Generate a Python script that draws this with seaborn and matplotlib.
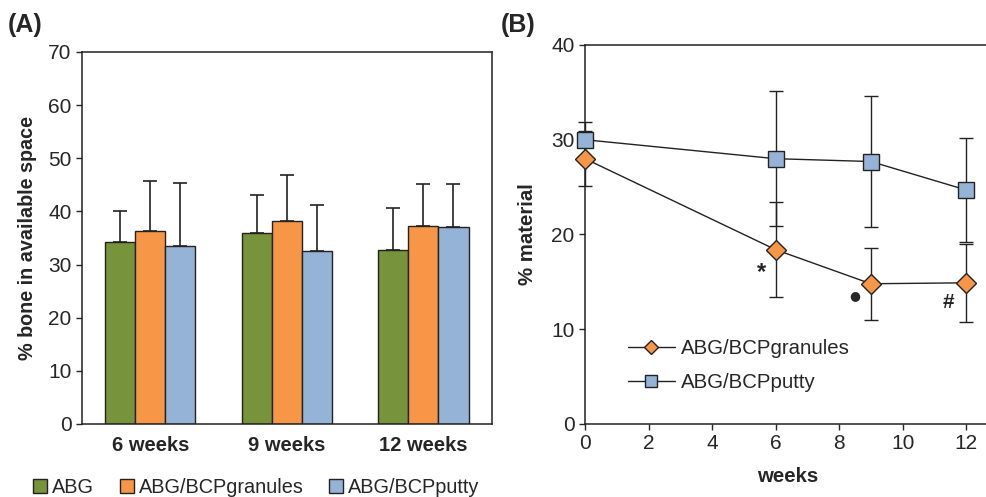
import matplotlib
matplotlib.use('Agg')
import matplotlib.pyplot as plt
import seaborn as sns
import pandas as pd
from matplotlib.patches import Patch
from matplotlib.lines import Line2D

# panel A data
timepoints = ['6 weeks', '9 weeks', '12 weeks']
groups = ['ABG', 'ABG/BCPgranules', 'ABG/BCPputty']
abg = [34.3, 35.9, 32.8]
abg_sd = [5.7, 7.1, 7.9]
granules = [36.3, 38.2, 37.3]
granules_sd = [9.5, 8.6, 7.8]
putty = [33.4, 32.5, 37.1]
putty_sd = [12.0, 8.7, 8.0]

# panel B data
weeks = [0, 6, 9, 12]
mat_granules = [28.0, 18.4, 14.8, 14.9]
mat_granules_sd = [2.9, 5.0, 3.8, 4.1]
mat_putty = [30.0, 28.0, 27.7, 24.7]
mat_putty_sd = [1.9, 7.1, 6.9, 5.5]
marks = ['*', '\u25CF', '#']
mark_x = [5.55, 8.5, 11.45]
mark_y = [16.0, 13.6, 12.8]

colors = ['#77933C', '#F79646', '#95B3D7']
ink = '#222222'

sns.set_style('ticks')
plt.rcParams['font.family'] = ['Liberation Sans', 'DejaVu Sans']

fig = plt.figure(figsize=(9.86, 4.97), dpi=100)
axA = fig.add_axes([0.0832, 0.1469, 0.4155, 0.7485])
axB = fig.add_axes([0.5933, 0.1469, 0.4107, 0.7626])

dfA = pd.DataFrame({
    'time': timepoints * 3,
    'group': [g for g in groups for _ in timepoints],
    'value': abg + granules + putty,
})
sns.barplot(data=dfA, x='time', y='value', hue='group', order=timepoints,
            hue_order=groups, palette=colors, width=0.66, errorbar=None,
            edgecolor=ink, linewidth=1, saturation=1, ax=axA, legend=False)

bars = [p for p in axA.patches if p.get_height() > 0]
sds = abg_sd + granules_sd + putty_sd
for p, s in zip(bars, sds):
    xc = p.get_x() + p.get_width() / 2
    axA.errorbar(xc, p.get_height(), yerr=[[0], [s]], color=ink,
                 lw=1.2, capsize=5, capthick=1.2)

axA.set_ylim(0, 70)
axA.set_xlim(-0.5, 2.5)
axA.set_yticks(range(0, 71, 10))
axA.tick_params(axis='y', labelsize=15, direction='out', length=4, width=1)
axA.tick_params(axis='x', length=0, labelsize=14.5, pad=9)
for lab in axA.get_xticklabels():
    lab.set_fontweight('bold')
axA.set_xlabel('')
axA.set_ylabel('% bone in available space', fontsize=14.2, fontweight='bold', labelpad=8)
for s in axA.spines.values():
    s.set_visible(True)
    s.set_linewidth(1.1)
    s.set_color(ink)

handles = [Patch(facecolor=c, edgecolor=ink, linewidth=1) for c in colors]
fig.legend(handles, groups, loc='center', bbox_to_anchor=(0.26, 0.02), ncol=3,
           frameon=False, fontsize=14.3, handlelength=0.7, handleheight=0.7,
           handletextpad=0.25, columnspacing=1.3)

# panel B
axB.errorbar(weeks, mat_putty, yerr=mat_putty_sd, color=ink, lw=1,
             capsize=5, capthick=1, fmt='none', zorder=2)
axB.errorbar(weeks, mat_granules, yerr=mat_granules_sd, color=ink, lw=1,
             capsize=5, capthick=1, fmt='none', zorder=2)
sns.lineplot(x=weeks, y=mat_putty, color=ink, lw=1, marker='s',
             markersize=11, markerfacecolor=colors[2], markeredgecolor=ink,
             markeredgewidth=1, ax=axB, zorder=3)
sns.lineplot(x=weeks, y=mat_granules, color=ink, lw=1, marker='D',
             markersize=10, markerfacecolor=colors[1], markeredgecolor=ink,
             markeredgewidth=1, ax=axB, zorder=3)
for art in axB.lines + axB.collections:
    art.set_clip_on(False)
for m, x, y in zip(marks, mark_x, mark_y):
    if m == '\u25CF':
        axB.text(x, y, m, fontsize=9, ha='center', va='center', family=['DejaVu Sans'])
    else:
        axB.text(x, y, m, fontsize=17 if m == '*' else 15, ha='center',
                 va='center', fontweight='bold')

axB.set_xlim(0, 12.75)
axB.set_ylim(0, 40)
axB.set_xticks(range(0, 13, 2))
axB.set_yticks(range(0, 41, 10))
axB.tick_params(labelsize=15, direction='out', length=4, width=1)
axB.set_xlabel('weeks', fontsize=14.7, fontweight='bold', labelpad=10)
axB.set_ylabel('% material', fontsize=14.7, fontweight='bold', labelpad=10)
for s in axB.spines.values():
    s.set_visible(True)
    s.set_linewidth(1.1)
    s.set_color(ink)

legB = [Line2D([], [], color=ink, lw=1, marker='D', markersize=7,
               markerfacecolor=colors[1], markeredgecolor=ink),
        Line2D([], [], color=ink, lw=1, marker='s', markersize=8,
               markerfacecolor=colors[2], markeredgecolor=ink)]
axB.legend(legB, ['ABG/BCPgranules', 'ABG/BCPputty'], loc='lower left',
           bbox_to_anchor=(0.06, 0.035), frameon=False, fontsize=14.7,
           handlelength=2.3, handletextpad=0.3, labelspacing=0.75)

fig.text(0.008, 0.95, '(A)', fontsize=18, fontweight='bold', va='center')
fig.text(0.508, 0.95, '(B)', fontsize=18, fontweight='bold', va='center')

fig.savefig('out.png', dpi=100)
